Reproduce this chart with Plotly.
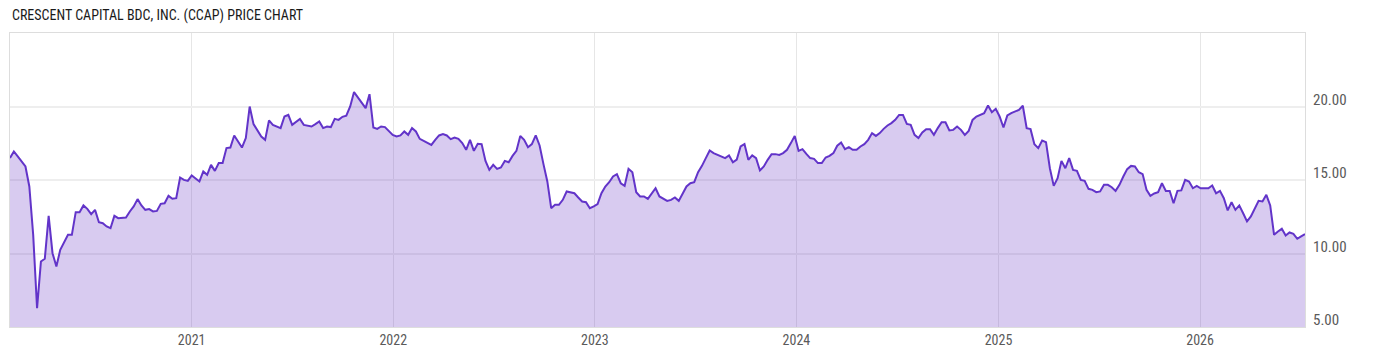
import pandas as pd
import plotly.graph_objects as go

TITLE = "CRESCENT CAPITAL BDC, INC. (CCAP) PRICE CHART"
START_DATE = "2020-02-07"  # first weekly close

prices_2020_21 = [16.49, 16.94, 16.6, 16.26, 15.92, 14.56, 11.27, 6.28, 9.46, 9.64, 12.56, 10.02, 9.12, 10.25,
                  10.82, 11.27, 11.27, 12.81, 12.81, 13.27, 13.04, 12.68, 12.97, 12.13, 12.06, 11.84, 11.72,
                  12.56, 12.4, 12.45, 12.45, 12.86, 13.2, 13.7, 13.27, 12.97, 13.02, 12.86, 12.9, 13.38, 13.42,
                  13.92, 13.72, 13.76, 15.17, 15.01, 14.94, 15.31, 15.08, 14.9, 15.58, 15.35, 16.03, 15.62,
                  16.15, 16.15, 17.17, 17.21, 18.03, 17.57, 17.21, 17.85, 20.0, 18.8, 18.34, 17.96, 17.73,
                  19.05, 18.75, 18.64, 18.53, 19.32, 19.43, 18.75, 18.98, 19.16, 18.75, 18.71, 18.64, 18.8,
                  18.98, 18.53, 18.64, 18.6, 19.16]
prices_2021_23 = [19.09, 19.3, 19.37, 20.0, 20.98, 20.61, 20.23, 19.89, 20.84, 18.57, 18.48, 18.64, 18.6, 18.3,
                  18.07, 17.96, 18.03, 18.3, 18.07, 18.53, 18.3, 17.8, 17.66, 17.57, 17.39, 17.73, 18.03, 18.12,
                  18.03, 17.78, 17.89, 17.8, 17.51, 17.05, 17.73, 16.98, 17.46, 17.44, 16.3, 15.69, 16.03,
                  15.76, 15.85, 16.3, 16.21, 16.64, 16.98, 18.0, 17.73, 17.23, 17.44, 18.03, 17.35, 16.08,
                  14.9, 13.08, 13.31, 13.31, 13.65, 14.22, 14.17, 14.1, 13.81, 13.54, 13.49, 13.08, 13.2,
                  13.36, 14.1, 14.56, 14.85, 15.24, 15.4, 14.78, 14.6, 15.76, 15.53, 14.17, 13.88, 13.88,
                  13.72, 14.1, 14.44, 13.88]
prices_2023_24 = [13.72, 13.58, 13.65, 13.81, 13.58, 14.1, 14.56, 14.78, 14.85, 15.53, 15.96, 16.49, 17.01,
                  16.83, 16.71, 16.64, 16.49, 16.67, 16.21, 16.39, 17.28, 17.44, 16.37, 16.67, 16.49, 15.65,
                  15.92, 16.37, 16.76, 16.76, 16.71, 16.83, 17.05, 17.51, 18.0, 16.98, 17.1, 16.78, 16.49,
                  16.44, 16.15, 16.15, 16.53, 16.64, 16.83, 17.33, 17.55, 17.1, 17.23, 17.05, 17.05, 17.28,
                  17.44, 17.73, 18.19, 18.0, 18.19, 18.48, 18.71, 18.87, 19.09, 19.43, 19.43, 18.82, 18.75,
                  18.07, 17.85, 18.23, 18.46, 18.46, 18.07, 18.53, 18.93, 18.93, 18.37, 18.41, 18.64, 18.41,
                  18.07, 18.34, 19.09, 19.32, 19.43, 19.55]
prices_2024_26 = [20.07, 19.61, 19.84, 19.32, 18.57, 19.39, 19.55, 19.66, 19.77, 20.05, 18.53, 18.46, 17.44,
                  17.17, 17.69, 17.57, 15.8, 14.6, 15.12, 16.3, 15.8, 16.49, 15.69, 15.62, 15.01, 14.94, 14.4,
                  14.33, 14.17, 14.22, 14.67, 14.67, 14.51, 14.26, 14.67, 15.24, 15.74, 15.96, 15.92, 15.53,
                  15.4, 14.33, 13.92, 14.08, 14.17, 14.78, 14.26, 14.26, 13.42, 14.26, 14.29, 15.01, 14.9,
                  14.44, 14.6, 14.44, 14.44, 14.44, 14.63, 14.1, 14.26, 13.76, 12.93, 13.49, 12.97, 13.27,
                  12.74, 12.18, 12.52, 13.08, 13.58, 13.54, 13.99, 13.27, 11.27, 11.5, 11.68, 11.22, 11.43,
                  11.34, 11.0, 11.16, 11.32]

y_ticks = [5, 10, 15, 20]
y_range = [5, 25]

prices = prices_2020_21 + prices_2021_23 + prices_2023_24 + prices_2024_26
dates = pd.date_range(start=START_DATE, periods=len(prices), freq="7D")

LINE = "#6234c9"
FILL = "rgba(112, 64, 200, 0.27)"
GRID = "#e6e6e6"
TEXT = "#5a5a5a"
FONT = "Roboto Condensed, Liberation Sans Narrow, DejaVu Sans Condensed, Roboto, sans-serif"

fig = go.Figure()
fig.add_trace(go.Scatter(
    x=dates, y=prices, mode="lines",
    line=dict(color=LINE, width=2),
    fill="tozeroy", fillcolor=FILL,
    hoverinfo="x+y",
))

fig.update_layout(
    width=1400, height=357,
    margin=dict(l=10, r=95, t=33, b=30),
    paper_bgcolor="white", plot_bgcolor="white",
    showlegend=False,
    font=dict(family=FONT, color=TEXT, size=14),
    annotations=[dict(
        text=TITLE, xref="paper", yref="paper", x=0, y=1,
        xanchor="left", yanchor="bottom", yshift=7, showarrow=False,
        font=dict(family=FONT, size=14, color="#1a1a1a"),
    )],
)
fig.update_xaxes(
    range=[dates[0], dates[-1]],
    dtick="M12", tick0="2021-01-01", tickformat="%Y",
    showgrid=True, gridcolor=GRID, gridwidth=1,
    showline=True, mirror=True, linecolor="#dddddd", linewidth=1,
    ticks="", tickfont=dict(size=14, color=TEXT),
    zeroline=False,
)
fig.update_yaxes(
    side="right", range=y_range, tickvals=y_ticks, tickformat=".2f",
    showgrid=True, gridcolor="#eeeeee", gridwidth=2,
    showline=True, mirror=True, linecolor="#dddddd", linewidth=1,
    ticks="", tickfont=dict(size=15, color=TEXT),
    ticklabelshift=-7, ticklabelstandoff=4,
    zeroline=False,
)

fig.write_html("out.html")
